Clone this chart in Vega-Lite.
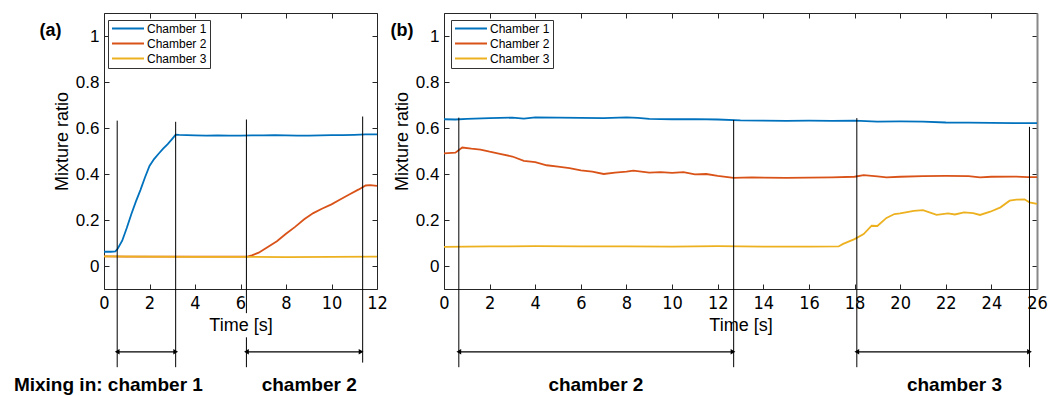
{
  "$schema": "https://vega.github.io/schema/vega-lite/v6.json",
  "padding": {"left": 13, "top": 12, "right": 5, "bottom": 0},
  "bounds": "flush",
  "spacing": 67,
  "config": {
    "view": {"stroke": null},
    "scale": {"continuousPadding": 0},
    "axis": {"grid": false, "labelFlush": false, "labelOverlap": false, "domainColor": "#262626", "tickColor": "#262626", "labelColor": "#000", "titleColor": "#000", "labelFont": "Liberation Sans", "titleFont": "Liberation Sans", "titleFontWeight": "normal", "labelFontSize": 17, "titleFontSize": 18, "tickSize": -5, "domainWidth": 1},
    "legend": {"labelFont": "Liberation Sans", "labelFontSize": 12, "labelColor": "#000"}
  },
  "datasets": {
    "seriesA": [
      {"t": 0, "v": 0.062, "s": "Chamber 1"}, {"t": 0.3, "v": 0.062, "s": "Chamber 1"}, {"t": 0.5, "v": 0.064, "s": "Chamber 1"}, {"t": 0.6, "v": 0.075, "s": "Chamber 1"}, {"t": 0.8, "v": 0.11, "s": "Chamber 1"}, {"t": 1.0, "v": 0.165, "s": "Chamber 1"}, {"t": 1.2, "v": 0.225, "s": "Chamber 1"}, {"t": 1.4, "v": 0.28, "s": "Chamber 1"}, {"t": 1.6, "v": 0.33, "s": "Chamber 1"}, {"t": 1.8, "v": 0.385, "s": "Chamber 1"}, {"t": 2.0, "v": 0.435, "s": "Chamber 1"}, {"t": 2.2, "v": 0.465, "s": "Chamber 1"}, {"t": 2.4, "v": 0.488, "s": "Chamber 1"}, {"t": 2.6, "v": 0.51, "s": "Chamber 1"}, {"t": 2.8, "v": 0.53, "s": "Chamber 1"}, {"t": 3.0, "v": 0.553, "s": "Chamber 1"}, {"t": 3.15, "v": 0.571, "s": "Chamber 1"}, {"t": 3.3, "v": 0.57, "s": "Chamber 1"}, {"t": 4, "v": 0.568, "s": "Chamber 1"}, {"t": 4.5, "v": 0.567, "s": "Chamber 1"}, {"t": 5, "v": 0.568, "s": "Chamber 1"}, {"t": 5.5, "v": 0.567, "s": "Chamber 1"}, {"t": 6, "v": 0.567, "s": "Chamber 1"}, {"t": 6.5, "v": 0.568, "s": "Chamber 1"}, {"t": 7, "v": 0.568, "s": "Chamber 1"}, {"t": 7.5, "v": 0.569, "s": "Chamber 1"}, {"t": 8, "v": 0.568, "s": "Chamber 1"}, {"t": 8.5, "v": 0.567, "s": "Chamber 1"}, {"t": 9, "v": 0.567, "s": "Chamber 1"}, {"t": 9.5, "v": 0.568, "s": "Chamber 1"}, {"t": 10, "v": 0.569, "s": "Chamber 1"}, {"t": 10.5, "v": 0.569, "s": "Chamber 1"}, {"t": 11, "v": 0.57, "s": "Chamber 1"}, {"t": 11.5, "v": 0.572, "s": "Chamber 1"}, {"t": 12, "v": 0.572, "s": "Chamber 1"},
      {"t": 0, "v": 0.042, "s": "Chamber 2"}, {"t": 1, "v": 0.041, "s": "Chamber 2"}, {"t": 2, "v": 0.041, "s": "Chamber 2"}, {"t": 3, "v": 0.041, "s": "Chamber 2"}, {"t": 4, "v": 0.041, "s": "Chamber 2"}, {"t": 5, "v": 0.041, "s": "Chamber 2"}, {"t": 6, "v": 0.041, "s": "Chamber 2"}, {"t": 6.3, "v": 0.041, "s": "Chamber 2"}, {"t": 6.5, "v": 0.046, "s": "Chamber 2"}, {"t": 6.8, "v": 0.058, "s": "Chamber 2"}, {"t": 7.2, "v": 0.083, "s": "Chamber 2"}, {"t": 7.6, "v": 0.108, "s": "Chamber 2"}, {"t": 8.0, "v": 0.14, "s": "Chamber 2"}, {"t": 8.4, "v": 0.17, "s": "Chamber 2"}, {"t": 8.8, "v": 0.203, "s": "Chamber 2"}, {"t": 9.2, "v": 0.23, "s": "Chamber 2"}, {"t": 9.6, "v": 0.25, "s": "Chamber 2"}, {"t": 10.0, "v": 0.268, "s": "Chamber 2"}, {"t": 10.4, "v": 0.29, "s": "Chamber 2"}, {"t": 10.8, "v": 0.312, "s": "Chamber 2"}, {"t": 11.2, "v": 0.333, "s": "Chamber 2"}, {"t": 11.5, "v": 0.35, "s": "Chamber 2"}, {"t": 11.7, "v": 0.352, "s": "Chamber 2"}, {"t": 12, "v": 0.348, "s": "Chamber 2"},
      {"t": 0, "v": 0.042, "s": "Chamber 3"}, {"t": 2, "v": 0.041, "s": "Chamber 3"}, {"t": 4, "v": 0.04, "s": "Chamber 3"}, {"t": 6, "v": 0.04, "s": "Chamber 3"}, {"t": 8, "v": 0.039, "s": "Chamber 3"}, {"t": 10, "v": 0.04, "s": "Chamber 3"}, {"t": 12, "v": 0.041, "s": "Chamber 3"}
    ],
    "seriesB": [
      {"t": 0, "v": 0.638, "s": "Chamber 1"}, {"t": 0.5, "v": 0.637, "s": "Chamber 1"}, {"t": 1, "v": 0.64, "s": "Chamber 1"}, {"t": 2, "v": 0.643, "s": "Chamber 1"}, {"t": 3, "v": 0.645, "s": "Chamber 1"}, {"t": 3.5, "v": 0.641, "s": "Chamber 1"}, {"t": 4, "v": 0.646, "s": "Chamber 1"}, {"t": 5, "v": 0.645, "s": "Chamber 1"}, {"t": 6, "v": 0.644, "s": "Chamber 1"}, {"t": 7, "v": 0.643, "s": "Chamber 1"}, {"t": 8, "v": 0.646, "s": "Chamber 1"}, {"t": 8.5, "v": 0.644, "s": "Chamber 1"}, {"t": 9, "v": 0.64, "s": "Chamber 1"}, {"t": 10, "v": 0.638, "s": "Chamber 1"}, {"t": 11, "v": 0.639, "s": "Chamber 1"}, {"t": 12, "v": 0.637, "s": "Chamber 1"}, {"t": 13, "v": 0.633, "s": "Chamber 1"}, {"t": 14, "v": 0.632, "s": "Chamber 1"}, {"t": 15, "v": 0.631, "s": "Chamber 1"}, {"t": 16, "v": 0.632, "s": "Chamber 1"}, {"t": 17, "v": 0.631, "s": "Chamber 1"}, {"t": 18, "v": 0.632, "s": "Chamber 1"}, {"t": 19, "v": 0.628, "s": "Chamber 1"}, {"t": 20, "v": 0.629, "s": "Chamber 1"}, {"t": 21, "v": 0.628, "s": "Chamber 1"}, {"t": 22, "v": 0.624, "s": "Chamber 1"}, {"t": 23, "v": 0.623, "s": "Chamber 1"}, {"t": 24, "v": 0.622, "s": "Chamber 1"}, {"t": 25, "v": 0.621, "s": "Chamber 1"}, {"t": 26, "v": 0.621, "s": "Chamber 1"},
      {"t": 0, "v": 0.49, "s": "Chamber 2"}, {"t": 0.5, "v": 0.493, "s": "Chamber 2"}, {"t": 0.8, "v": 0.515, "s": "Chamber 2"}, {"t": 1.2, "v": 0.51, "s": "Chamber 2"}, {"t": 1.6, "v": 0.506, "s": "Chamber 2"}, {"t": 2, "v": 0.497, "s": "Chamber 2"}, {"t": 2.4, "v": 0.489, "s": "Chamber 2"}, {"t": 3.0, "v": 0.476, "s": "Chamber 2"}, {"t": 3.5, "v": 0.457, "s": "Chamber 2"}, {"t": 4.0, "v": 0.452, "s": "Chamber 2"}, {"t": 4.5, "v": 0.438, "s": "Chamber 2"}, {"t": 5.0, "v": 0.432, "s": "Chamber 2"}, {"t": 5.5, "v": 0.426, "s": "Chamber 2"}, {"t": 6.0, "v": 0.416, "s": "Chamber 2"}, {"t": 6.5, "v": 0.41, "s": "Chamber 2"}, {"t": 7.0, "v": 0.4, "s": "Chamber 2"}, {"t": 7.5, "v": 0.406, "s": "Chamber 2"}, {"t": 8.0, "v": 0.41, "s": "Chamber 2"}, {"t": 8.3, "v": 0.415, "s": "Chamber 2"}, {"t": 9.0, "v": 0.406, "s": "Chamber 2"}, {"t": 9.5, "v": 0.408, "s": "Chamber 2"}, {"t": 10, "v": 0.405, "s": "Chamber 2"}, {"t": 10.5, "v": 0.408, "s": "Chamber 2"}, {"t": 11, "v": 0.398, "s": "Chamber 2"}, {"t": 11.5, "v": 0.4, "s": "Chamber 2"}, {"t": 12, "v": 0.392, "s": "Chamber 2"}, {"t": 12.7, "v": 0.383, "s": "Chamber 2"}, {"t": 13.5, "v": 0.385, "s": "Chamber 2"}, {"t": 15, "v": 0.383, "s": "Chamber 2"}, {"t": 16, "v": 0.384, "s": "Chamber 2"}, {"t": 17, "v": 0.385, "s": "Chamber 2"}, {"t": 18, "v": 0.388, "s": "Chamber 2"}, {"t": 18.4, "v": 0.395, "s": "Chamber 2"}, {"t": 19, "v": 0.39, "s": "Chamber 2"}, {"t": 19.4, "v": 0.385, "s": "Chamber 2"}, {"t": 20, "v": 0.388, "s": "Chamber 2"}, {"t": 21, "v": 0.391, "s": "Chamber 2"}, {"t": 22, "v": 0.392, "s": "Chamber 2"}, {"t": 23, "v": 0.391, "s": "Chamber 2"}, {"t": 23.5, "v": 0.385, "s": "Chamber 2"}, {"t": 24, "v": 0.388, "s": "Chamber 2"}, {"t": 25, "v": 0.389, "s": "Chamber 2"}, {"t": 25.6, "v": 0.386, "s": "Chamber 2"}, {"t": 26, "v": 0.386, "s": "Chamber 2"},
      {"t": 0, "v": 0.083, "s": "Chamber 3"}, {"t": 2, "v": 0.085, "s": "Chamber 3"}, {"t": 4, "v": 0.086, "s": "Chamber 3"}, {"t": 6, "v": 0.085, "s": "Chamber 3"}, {"t": 8, "v": 0.085, "s": "Chamber 3"}, {"t": 10, "v": 0.084, "s": "Chamber 3"}, {"t": 12, "v": 0.086, "s": "Chamber 3"}, {"t": 14, "v": 0.084, "s": "Chamber 3"}, {"t": 16, "v": 0.084, "s": "Chamber 3"}, {"t": 17.3, "v": 0.085, "s": "Chamber 3"}, {"t": 17.5, "v": 0.096, "s": "Chamber 3"}, {"t": 18.0, "v": 0.117, "s": "Chamber 3"}, {"t": 18.4, "v": 0.139, "s": "Chamber 3"}, {"t": 18.75, "v": 0.175, "s": "Chamber 3"}, {"t": 19.0, "v": 0.174, "s": "Chamber 3"}, {"t": 19.4, "v": 0.209, "s": "Chamber 3"}, {"t": 19.75, "v": 0.226, "s": "Chamber 3"}, {"t": 20.0, "v": 0.229, "s": "Chamber 3"}, {"t": 20.6, "v": 0.24, "s": "Chamber 3"}, {"t": 21.0, "v": 0.243, "s": "Chamber 3"}, {"t": 21.6, "v": 0.222, "s": "Chamber 3"}, {"t": 22.1, "v": 0.229, "s": "Chamber 3"}, {"t": 22.4, "v": 0.224, "s": "Chamber 3"}, {"t": 22.8, "v": 0.233, "s": "Chamber 3"}, {"t": 23.2, "v": 0.23, "s": "Chamber 3"}, {"t": 23.5, "v": 0.222, "s": "Chamber 3"}, {"t": 23.95, "v": 0.236, "s": "Chamber 3"}, {"t": 24.4, "v": 0.255, "s": "Chamber 3"}, {"t": 24.8, "v": 0.284, "s": "Chamber 3"}, {"t": 25.1, "v": 0.289, "s": "Chamber 3"}, {"t": 25.45, "v": 0.29, "s": "Chamber 3"}, {"t": 25.67, "v": 0.277, "s": "Chamber 3"}, {"t": 26, "v": 0.27, "s": "Chamber 3"}
    ],
    "rulesA": [
      {"t": 0.58, "y1": 0.632, "y2": -0.44}, {"t": 3.15, "y1": 0.627, "y2": -0.44}, {"t": 6.26, "y1": 0.637, "y2": -0.205}, {"t": 6.26, "y1": -0.31, "y2": -0.44}, {"t": 11.37, "y1": 0.65, "y2": -0.42}
    ],
    "rulesB": [
      {"t": 0.65, "y1": 0.645, "y2": -0.44}, {"t": 12.7, "y1": 0.635, "y2": -0.44}, {"t": 18.1, "y1": 0.643, "y2": -0.44}, {"t": 25.67, "y1": 0.605, "y2": -0.44}
    ],
    "arrowsA": [{"t1": 0.58, "t2": 3.15, "y": -0.373}, {"t1": 6.26, "t2": 11.3, "y": -0.373}],
    "arrowsB": [{"t1": 0.65, "t2": 12.67, "y": -0.373}, {"t1": 18.1, "t2": 25.67, "y": -0.373}],
    "headsA": [{"t": 0.58, "y": -0.373, "dir": "L"}, {"t": 3.15, "y": -0.373, "dir": "R"}, {"t": 6.26, "y": -0.373, "dir": "L"}, {"t": 11.3, "y": -0.373, "dir": "R"}],
    "headsB": [{"t": 0.65, "y": -0.373, "dir": "L"}, {"t": 12.67, "y": -0.373, "dir": "R"}, {"t": 18.1, "y": -0.373, "dir": "L"}, {"t": 25.67, "y": -0.373, "dir": "R"}]
  },
  "resolve": {"scale": {"color": "independent"}, "legend": {"color": "independent"}},
  "hconcat": [
    {
      "width": 273,
      "height": 276,
      "resolve": {"axis": {"x": "independent", "y": "independent"}},
      "layer": [
        {
          "data": {"name": "seriesA"},
          "mark": {"type": "line", "strokeWidth": 1.8},
          "encoding": {
            "x": {"field": "t", "type": "quantitative", "scale": {"domain": [0, 12], "nice": false, "zero": false, "padding": 0}, "axis": {"orient": "bottom", "values": [0, 2, 4, 6, 8, 10, 12], "format": "d", "title": "Time [s]", "labelFont": "Liberation Sans Narrow, DejaVu Sans Condensed, Liberation Sans", "labelFontSize": 18, "labelPadding": 10, "titlePadding": 4}},
            "y": {"field": "v", "type": "quantitative", "scale": {"domain": [-0.1, 1.1], "nice": false, "zero": false, "padding": 0}, "axis": {"orient": "left", "values": [0, 0.2, 0.4, 0.6, 0.8, 1], "format": "~g", "title": "Mixture ratio", "labelPadding": 10, "titlePadding": 4, "titleY": 128}},
            "color": {"field": "s", "type": "nominal", "scale": {"domain": ["Chamber 1", "Chamber 2", "Chamber 3"], "range": ["#0072BD", "#D95319", "#EDB120"]}, "legend": {"orient": "none", "legendX": 4, "legendY": 7, "title": null, "symbolType": "stroke", "symbolSize": 1024, "symbolStrokeWidth": 2, "strokeColor": "#333", "fillColor": "#fff", "padding": 3, "rowPadding": 2, "clipHeight": 11, "labelOffset": 2}}
          }
        },
        {
          "data": {"name": "rulesA"},
          "mark": {"type": "rule", "color": "#000", "strokeWidth": 1},
          "encoding": {
            "x": {"field": "t", "type": "quantitative", "scale": {"domain": [0, 12], "nice": false, "zero": false, "padding": 0}, "axis": {"orient": "top", "values": [0, 2, 4, 6, 8, 10, 12], "labels": false, "title": null}},
            "y": {"field": "y1", "type": "quantitative", "scale": {"domain": [-0.1, 1.1], "nice": false, "zero": false, "padding": 0}, "axis": {"orient": "right", "values": [0, 0.2, 0.4, 0.6, 0.8, 1], "labels": false, "title": null}},
            "y2": {"field": "y2"}
          }
        },
        {
          "data": {"name": "arrowsA"},
          "mark": {"type": "rule", "color": "#000", "strokeWidth": 1.2},
          "encoding": {
            "x": {"field": "t1", "type": "quantitative", "scale": {"domain": [0, 12], "nice": false, "zero": false, "padding": 0}, "axis": null},
            "x2": {"field": "t2"},
            "y": {"field": "y", "type": "quantitative", "scale": {"domain": [-0.1, 1.1], "nice": false, "zero": false, "padding": 0}, "axis": null}
          }
        },
        {
          "data": {"name": "headsA"},
          "mark": {"type": "point", "filled": true, "color": "#000", "size": 30, "opacity": 1},
          "encoding": {
            "x": {"field": "t", "type": "quantitative", "scale": {"domain": [0, 12], "nice": false, "zero": false, "padding": 0}, "axis": null},
            "y": {"field": "y", "type": "quantitative", "scale": {"domain": [-0.1, 1.1], "nice": false, "zero": false, "padding": 0}, "axis": null},
            "shape": {"field": "dir", "type": "nominal", "scale": {"domain": ["L", "R"], "range": ["triangle-left", "triangle-right"]}, "legend": null},
            "xOffset": {"field": "dir", "type": "nominal", "scale": {"domain": ["L", "R"], "range": [3, -3]}}
          }
        },
        {
          "data": {"values": [{"t": -3.96, "y": -0.516, "label": "Mixing in: chamber 1"}]},
          "mark": {"type": "text", "font": "Liberation Sans", "fontWeight": "bold", "fontSize": 19, "align": "left", "baseline": "middle", "color": "#000"},
          "encoding": {
            "x": {"field": "t", "type": "quantitative", "scale": {"domain": [0, 12], "nice": false, "zero": false, "padding": 0}, "axis": null},
            "y": {"field": "y", "type": "quantitative", "scale": {"domain": [-0.1, 1.1], "nice": false, "zero": false, "padding": 0}, "axis": null},
            "text": {"field": "label"}
          }
        },
        {
          "data": {"values": [{"t": 9.02, "y": -0.516, "label": "chamber 2"}]},
          "mark": {"type": "text", "font": "Liberation Sans", "fontWeight": "bold", "fontSize": 19, "align": "center", "baseline": "middle", "color": "#000"},
          "encoding": {
            "x": {"field": "t", "type": "quantitative", "scale": {"domain": [0, 12], "nice": false, "zero": false, "padding": 0}, "axis": null},
            "y": {"field": "y", "type": "quantitative", "scale": {"domain": [-0.1, 1.1], "nice": false, "zero": false, "padding": 0}, "axis": null},
            "text": {"field": "label"}
          }
        },
        {
          "data": {"values": [{"t": -2.35, "y": 1.023, "label": "(a)"}]},
          "mark": {"type": "text", "font": "Liberation Sans", "fontWeight": "bold", "fontSize": 18, "align": "center", "baseline": "middle", "color": "#000"},
          "encoding": {
            "x": {"field": "t", "type": "quantitative", "scale": {"domain": [0, 12], "nice": false, "zero": false, "padding": 0}, "axis": null},
            "y": {"field": "y", "type": "quantitative", "scale": {"domain": [-0.1, 1.1], "nice": false, "zero": false, "padding": 0}, "axis": null},
            "text": {"field": "label"}
          }
        }
      ]
    },
    {
      "width": 593,
      "height": 276,
      "resolve": {"axis": {"x": "independent", "y": "independent"}},
      "layer": [
        {
          "data": {"name": "seriesB"},
          "mark": {"type": "line", "strokeWidth": 1.8},
          "encoding": {
            "x": {"field": "t", "type": "quantitative", "scale": {"domain": [0, 26], "nice": false, "zero": false, "padding": 0}, "axis": {"orient": "bottom", "values": [0, 2, 4, 6, 8, 10, 12, 14, 16, 18, 20, 22, 24, 26], "format": "d", "title": "Time [s]", "labelFont": "Liberation Sans Narrow, DejaVu Sans Condensed, Liberation Sans", "labelFontSize": 18, "labelPadding": 10, "titlePadding": 4}},
            "y": {"field": "v", "type": "quantitative", "scale": {"domain": [-0.1, 1.1], "nice": false, "zero": false, "padding": 0}, "axis": {"orient": "left", "values": [0, 0.2, 0.4, 0.6, 0.8, 1], "format": "~g", "title": "Mixture ratio", "labelPadding": 10, "titlePadding": 4, "titleY": 128}},
            "color": {"field": "s", "type": "nominal", "scale": {"domain": ["Chamber 1", "Chamber 2", "Chamber 3"], "range": ["#0072BD", "#D95319", "#EDB120"]}, "legend": {"orient": "none", "legendX": 7, "legendY": 7, "title": null, "symbolType": "stroke", "symbolSize": 1024, "symbolStrokeWidth": 2, "strokeColor": "#333", "fillColor": "#fff", "padding": 3, "rowPadding": 2, "clipHeight": 11, "labelOffset": 2}}
          }
        },
        {
          "data": {"name": "rulesB"},
          "mark": {"type": "rule", "color": "#000", "strokeWidth": 1},
          "encoding": {
            "x": {"field": "t", "type": "quantitative", "scale": {"domain": [0, 26], "nice": false, "zero": false, "padding": 0}, "axis": {"orient": "top", "values": [0, 2, 4, 6, 8, 10, 12, 14, 16, 18, 20, 22, 24, 26], "labels": false, "title": null}},
            "y": {"field": "y1", "type": "quantitative", "scale": {"domain": [-0.1, 1.1], "nice": false, "zero": false, "padding": 0}, "axis": {"orient": "right", "values": [0, 0.2, 0.4, 0.6, 0.8, 1], "labels": false, "title": null, "domainColor": "#888", "domainWidth": 2}},
            "y2": {"field": "y2"}
          }
        },
        {
          "data": {"name": "arrowsB"},
          "mark": {"type": "rule", "color": "#000", "strokeWidth": 1.2},
          "encoding": {
            "x": {"field": "t1", "type": "quantitative", "scale": {"domain": [0, 26], "nice": false, "zero": false, "padding": 0}, "axis": null},
            "x2": {"field": "t2"},
            "y": {"field": "y", "type": "quantitative", "scale": {"domain": [-0.1, 1.1], "nice": false, "zero": false, "padding": 0}, "axis": null}
          }
        },
        {
          "data": {"name": "headsB"},
          "mark": {"type": "point", "filled": true, "color": "#000", "size": 30, "opacity": 1},
          "encoding": {
            "x": {"field": "t", "type": "quantitative", "scale": {"domain": [0, 26], "nice": false, "zero": false, "padding": 0}, "axis": null},
            "y": {"field": "y", "type": "quantitative", "scale": {"domain": [-0.1, 1.1], "nice": false, "zero": false, "padding": 0}, "axis": null},
            "shape": {"field": "dir", "type": "nominal", "scale": {"domain": ["L", "R"], "range": ["triangle-left", "triangle-right"]}, "legend": null},
            "xOffset": {"field": "dir", "type": "nominal", "scale": {"domain": ["L", "R"], "range": [3, -3]}}
          }
        },
        {
          "data": {"values": [{"t": 6.66, "y": -0.516, "label": "chamber 2"}, {"t": 22.38, "y": -0.516, "label": "chamber 3"}]},
          "mark": {"type": "text", "font": "Liberation Sans", "fontWeight": "bold", "fontSize": 19, "align": "center", "baseline": "middle", "color": "#000"},
          "encoding": {
            "x": {"field": "t", "type": "quantitative", "scale": {"domain": [0, 26], "nice": false, "zero": false, "padding": 0}, "axis": null},
            "y": {"field": "y", "type": "quantitative", "scale": {"domain": [-0.1, 1.1], "nice": false, "zero": false, "padding": 0}, "axis": null},
            "text": {"field": "label"}
          }
        },
        {
          "data": {"values": [{"t": -1.84, "y": 1.023, "label": "(b)"}]},
          "mark": {"type": "text", "font": "Liberation Sans", "fontWeight": "bold", "fontSize": 18, "align": "center", "baseline": "middle", "color": "#000"},
          "encoding": {
            "x": {"field": "t", "type": "quantitative", "scale": {"domain": [0, 26], "nice": false, "zero": false, "padding": 0}, "axis": null},
            "y": {"field": "y", "type": "quantitative", "scale": {"domain": [-0.1, 1.1], "nice": false, "zero": false, "padding": 0}, "axis": null},
            "text": {"field": "label"}
          }
        }
      ]
    }
  ]
}
